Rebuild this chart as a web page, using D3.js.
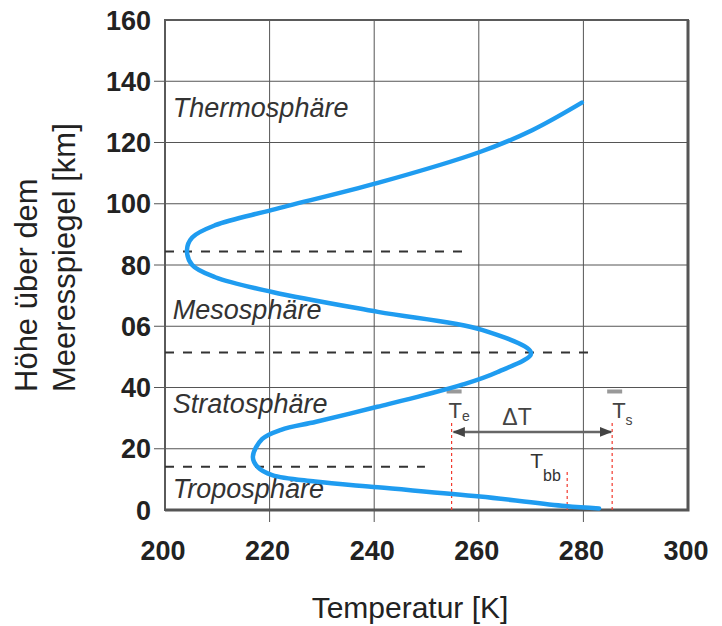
<!DOCTYPE html>
<html>
<head>
<meta charset="utf-8">
<script src="https://cdn.jsdelivr.net/npm/d3@7"></script>
<style>
  body { margin: 0; background: #fff; }
  svg { display: block; }
</style>
</head>
<body>
<script>
// temperature profile (K) vs height (km)
const tempK = [283, 276.5, 260.2, 240.7, 228.7, 220.5, 217.8, 216.8, 218.6, 222.2, 228.9, 240.6, 249.5, 257, 263.5, 270,
    260.6, 240.7, 220.5, 209.6, 205.2, 204.2, 205.2, 209.6, 220.5, 240.7, 260.2, 270.2, 279.7]
const heightKm = [0.5, 1.3, 4.4, 7.4, 9.3, 11.4, 13.9, 17.4, 23.2, 26.2, 28.8, 33.7, 37.5, 41, 45, 51.2,
    58.8, 64.7, 71.2, 76, 80, 84.9, 89, 93, 98, 106.8, 116.9, 124, 133]

const xTicks = [200, 220, 240, 260, 280, 300]
const yTicks = [0, 20, 40, 60, 80, 100, 120, 140, 160]
const yTickLabels = ["0", "20", "40", "06", "80", "100", "120", "140", "160"]

// layer boundaries: height and how far the dashed line runs
const pauseHeights = [14.1, 51.4, 84.4]
const pauseEnds = [249.7, 280.9, 258]

const layerNames = ["Troposphäre", "Stratosphäre", "Mesosphäre", "Thermosphäre"]
const layerLabelHeights = [3.9, 31.7, 62.4, 128.3]

// Te, Tbb, Ts markers
const tE = 254.8, tBB = 276.9, tS = 285.5

const width = 722, height = 626

const x = d3.scaleLinear().domain([200, 300]).range([165, 688])
const y = d3.scaleLinear().domain([0, 160]).range([510, 20])

const svg = d3.select("body").append("svg")
    .attr("width", width)
    .attr("height", height)
    .style("font-family", "'Liberation Sans', Arial, sans-serif")

// grid
svg.append("g").selectAll("line")
    .data(xTicks.slice(1, -1))
    .enter().append("line")
    .attr("x1", d => x(d)).attr("x2", d => x(d))
    .attr("y1", y(160)).attr("y2", y(0) + 12)
    .attr("stroke", "#555").attr("stroke-width", 1)

svg.append("g").selectAll("line")
    .data(yTicks.slice(1, -1))
    .enter().append("line")
    .attr("x1", x(200) - 11).attr("x2", x(300))
    .attr("y1", d => y(d)).attr("y2", d => y(d))
    .attr("stroke", "#555").attr("stroke-width", 1)

// frame
svg.append("rect")
    .attr("x", x(200)).attr("y", y(160))
    .attr("width", x(300) - x(200)).attr("height", y(0) - y(160))
    .attr("fill", "none").attr("stroke", "#5a5a5a").attr("stroke-width", 2)
svg.append("path")
    .attr("d", `M${x(300)},${y(160)}V${y(0)}H${x(200)}`)
    .attr("fill", "none").attr("stroke", "#555").attr("stroke-width", 3)

// tick labels
svg.append("g").selectAll("text")
    .data(yTicks)
    .enter().append("text")
    .attr("x", 151)
    .attr("y", d => y(d))
    .attr("dy", "0.36em")
    .attr("text-anchor", "end")
    .attr("font-size", 27)
    .attr("font-weight", 700)
    .attr("fill", "#222")
    .text((d, i) => yTickLabels[i])

svg.append("g").selectAll("text")
    .data(xTicks)
    .enter().append("text")
    .attr("x", d => x(d) - 2)
    .attr("y", 560)
    .attr("text-anchor", "middle")
    .attr("font-size", 27)
    .attr("font-weight", 700)
    .attr("fill", "#222")
    .text(d => d)

// axis titles
svg.append("text")
    .attr("x", 410).attr("y", 618)
    .attr("text-anchor", "middle")
    .attr("font-size", 30)
    .attr("fill", "#222")
    .text("Temperatur [K]")

svg.append("text")
    .attr("transform", "translate(37,392) rotate(-90)")
    .attr("font-size", 31)
    .attr("fill", "#222")
    .text("Höhe über dem")
svg.append("text")
    .attr("transform", "translate(75,392) rotate(-90)")
    .attr("font-size", 31)
    .attr("fill", "#222")
    .text("Meeresspiegel [km]")

// layer boundaries
svg.append("g").selectAll("line")
    .data(pauseHeights)
    .enter().append("line")
    .attr("x1", x(200)).attr("x2", (d, i) => x(pauseEnds[i]))
    .attr("y1", d => y(d)).attr("y2", d => y(d))
    .attr("stroke", "#333")
    .attr("stroke-width", 2)
    .attr("stroke-dasharray", "9,9")

// layer names
svg.append("g").selectAll("text")
    .data(layerNames)
    .enter().append("text")
    .attr("x", x(201.5))
    .attr("y", (d, i) => y(layerLabelHeights[i]))
    .attr("font-size", 27)
    .attr("font-style", "italic")
    .attr("fill", "#333")
    .text(d => d)

// red marker lines
const markers = [[tE, 28.4], [tS, 28.4], [tBB, 12.4]]
svg.append("g").selectAll("line")
    .data(markers)
    .enter().append("line")
    .attr("x1", d => x(d[0])).attr("x2", d => x(d[0]))
    .attr("y1", d => y(d[1])).attr("y2", y(0))
    .attr("stroke", "#f23a2e")
    .attr("stroke-width", 1.2)
    .attr("stroke-dasharray", "3,3")

// delta T arrow
svg.append("defs").append("marker")
    .attr("id", "ah")
    .attr("viewBox", "0 0 10 10")
    .attr("refX", 9).attr("refY", 5)
    .attr("markerWidth", 5).attr("markerHeight", 5)
    .attr("orient", "auto-start-reverse")
    .append("path").attr("d", "M0,1L10,5L0,9Z").attr("fill", "#444")

svg.append("line")
    .attr("x1", x(tE) + 2).attr("x2", x(tS) - 1)
    .attr("y1", y(25.5)).attr("y2", y(25.5))
    .attr("stroke", "#666").attr("stroke-width", 2.5)
    .attr("marker-start", "url(#ah)")
    .attr("marker-end", "url(#ah)")

// little grey bars above Te and Ts
svg.append("g").selectAll("line")
    .data([tE, tS])
    .enter().append("line")
    .attr("x1", d => x(d) - 5).attr("x2", d => x(d) + 10)
    .attr("y1", y(38.7)).attr("y2", y(38.7))
    .attr("stroke", "#999").attr("stroke-width", 4)

const tLabel = function (tx, ty, sub, size, subSize, subDy, color) {
    const t = svg.append("text")
        .attr("x", tx).attr("y", ty)
        .attr("font-size", size)
        .attr("fill", color)
    t.append("tspan").text("T")
    t.append("tspan").attr("dy", subDy)
        .attr("font-size", subSize).text(sub)
}

tLabel(x(tE) - 3, y(30.1), "e", 22, 14, 3, "#444")
tLabel(x(tS), y(30.2), "s", 22, 14, 7, "#444")
tLabel(x(tBB) - 37, y(13.7), "bb", 21, 16, 13, "#333")

svg.append("text")
    .attr("x", x(264.5)).attr("y", y(27.6))
    .attr("font-size", 23)
    .attr("fill", "#444")
    .text("ΔT")

// temperature curve
const profile = tempK.map((t, i) => [t, heightKm[i]])

svg.append("path")
    .datum(profile)
    .attr("fill", "none")
    .attr("stroke", "#1f9cf0")
    .attr("stroke-width", 4.5)
    .attr("stroke-linecap", "round")
    .attr("d", d3.line()
        .x(d => x(d[0]))
        .y(d => y(d[1]))
        .curve(d3.curveCatmullRom.alpha(0.5)))
</script>
</body>
</html>
